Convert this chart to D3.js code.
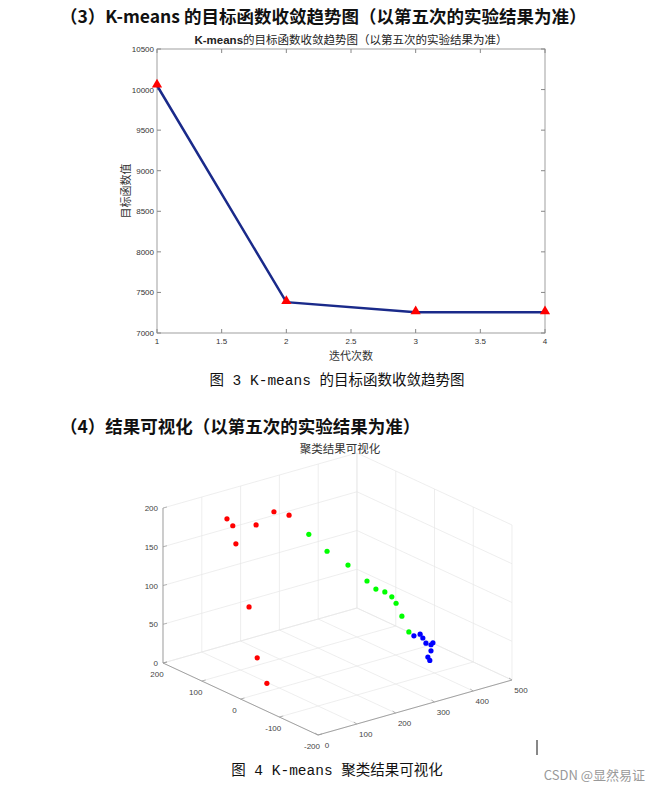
<!DOCTYPE html>
<html><head><meta charset="utf-8">
<script src="https://d3js.org/d3.v7.min.js"></script>
<style>body{margin:0;background:#fff}</style>
</head><body>
<svg id="vis"></svg>
<script>
  // line chart data
  var iterations = [1, 2, 3, 4];
  var objValues = [10050, 7380, 7255, 7255];
  var xTicks = [1, 1.5, 2, 2.5, 3, 3.5, 4];
  var yTicks = [7000, 7500, 8000, 8500, 9000, 9500, 10000, 10500];

  // 3d scatter data: [x, y, z]
  var cluster1 = [[65,100,200],[80,100,189],[68,80,172],[160,120,174],[226,140,177],[225,100,182],[72,50,97],[43,0,47],[48,-20,18]];
  var cluster2 = [[236,60,165],[263,40,144],[297,20,126],[326,0,106],[339,-10,96],[357,-15,91],[370,-20,84],[376,-25,76],[386,-30,59],[399,-35,38]];
  var cluster3 = [[407,-40,33],[428,-35,31],[430,-40,27],[433,-45,21],[441,-50,19],[451,-45,19],[436,-55,13],[423,-60,8],[428,-60,3]];
  var xTicks3 = [0, 100, 200, 300, 400, 500];
  var yTicks3 = [-200, -100, 0, 100, 200];
  var zTicks3 = [0, 50, 100, 150, 200];

  var width = 660, height = 792;
  var svg = d3.select('#vis').attr('width', width).attr('height', height);
  var cjk = '"Noto Sans CJK SC", sans-serif';
  var mono = '"Liberation Mono", "Noto Sans CJK SC", monospace';
  var axisFont = '"Liberation Sans", Arial, sans-serif';

  // headings
  svg.append('text').attr('x', 60).attr('y', 23).attr('font-family', cjk).attr('font-weight', 'bold')
     .attr('font-size', 17.5).attr('fill', '#111').text('（3）K-means 的目标函数收敛趋势图（以第五次的实验结果为准）');
  svg.append('text').attr('x', 60).attr('y', 433).attr('font-family', cjk).attr('font-weight', 'bold')
     .attr('font-size', 17.5).attr('fill', '#111').text('（4）结果可视化（以第五次的实验结果为准）');
  svg.append('text').attr('x', 337).attr('y', 385).attr('text-anchor', 'middle').attr('font-family', mono)
     .attr('font-size', 14.5).attr('fill', '#111').text('图 3 K-means 的目标函数收敛趋势图');
  svg.append('text').attr('x', 337).attr('y', 775).attr('text-anchor', 'middle').attr('font-family', mono)
     .attr('font-size', 14.5).attr('fill', '#111').text('图 4 K-means 聚类结果可视化');
  svg.append('text').attr('x', 645).attr('y', 780).attr('text-anchor', 'end').attr('font-family', cjk)
     .attr('font-size', 13).attr('fill', '#999').text('CSDN @显然易证');
  svg.append('line').attr('x1', 537).attr('x2', 537).attr('y1', 740).attr('y2', 755).attr('stroke', '#111');

  // ---- line chart ----
  var x = d3.scaleLinear().domain([1, 4]).range([157, 545]);
  var y = d3.scaleLinear().domain([7000, 10500]).range([333, 49]);
  var g = svg.append('g');
  g.append('rect').attr('x', 157).attr('y', 49).attr('width', 388).attr('height', 284)
     .attr('fill', 'none').attr('stroke', '#888').attr('stroke-width', 0.8);
  xTicks.forEach(function(t) {
    g.append('line').attr('x1', x(t)).attr('x2', x(t)).attr('y1', 333).attr('y2', 329).attr('stroke', '#888');
    g.append('line').attr('x1', x(t)).attr('x2', x(t)).attr('y1', 49).attr('y2', 53).attr('stroke', '#888');
    g.append('text').attr('x', x(t)).attr('y', 344).attr('text-anchor', 'middle').attr('font-family', axisFont)
      .attr('font-size', 8).attr('fill', '#333').text(t);
  });
  yTicks.forEach(function(t) {
    g.append('line').attr('x1', 157).attr('x2', 161).attr('y1', y(t)).attr('y2', y(t)).attr('stroke', '#888');
    g.append('line').attr('x1', 545).attr('x2', 541).attr('y1', y(t)).attr('y2', y(t)).attr('stroke', '#888');
    g.append('text').attr('x', 154).attr('y', y(t) + 3).attr('text-anchor', 'end').attr('font-family', axisFont)
      .attr('font-size', 8).attr('fill', '#333').text(t);
  });
  g.append('text').attr('x', 351).attr('y', 44).attr('text-anchor', 'middle').attr('font-family', cjk)
     .attr('font-size', 11.5).attr('fill', '#222').html('<tspan font-family="Liberation Sans" font-weight="bold">K-means</tspan>的目标函数收敛趋势图（以第五次的实验结果为准）');
  g.append('text').attr('x', 351).attr('y', 360).attr('text-anchor', 'middle').attr('font-family', cjk)
     .attr('font-size', 11).attr('fill', '#333').text('迭代次数');
  g.append('text').attr('transform', 'translate(130,191) rotate(-90)').attr('text-anchor', 'middle')
     .attr('font-family', cjk).attr('font-size', 11).attr('fill', '#333').text('目标函数值');
  var pts = iterations.map(function(d, i) { return [d, objValues[i]]; });
  g.append('path').attr('d', d3.line().x(function(d) { return x(d[0]); }).y(function(d) { return y(d[1]); })(pts))
     .attr('fill', 'none').attr('stroke', '#1a2a8a').attr('stroke-width', 2.5);
  g.selectAll('path.tri').data(pts).enter().append('path').attr('class', 'tri')
     .attr('d', d3.symbol().type(d3.symbolTriangle).size(45))
     .attr('transform', function(d) { return 'translate(' + x(d[0]) + ',' + (y(d[1]) - 1) + ')'; })
     .attr('fill', '#ff0000');

  // ---- 3d scatter ----
  var sx = d3.scaleLinear().domain([0, 500]).range([0, 1]);
  var sy = d3.scaleLinear().domain([-200, 200]).range([0, 1]);
  var sz = d3.scaleLinear().domain([0, 200]).range([0, 1]);
  var O = [318, 735], ex = [194, -55], ey = [-155, -72], ez = [0, -155];
  function proj(a, b, c) {
    var u = sx(a), v = sy(b), w = sz(c);
    return [O[0] + u * ex[0] + v * ey[0] + w * ez[0], O[1] + u * ex[1] + v * ey[1] + w * ez[1]];
  }
  var g3 = svg.append('g');
  function seg(p, q, col, sw) {
    g3.append('line').attr('x1', p[0]).attr('y1', p[1]).attr('x2', q[0]).attr('y2', q[1])
      .attr('stroke', col).attr('stroke-width', sw || 0.7);
  }
  var grid = '#e6e6e6';
  // back wall y=200
  xTicks3.forEach(function(t) { seg(proj(t, 200, 0), proj(t, 200, 200), grid); });
  zTicks3.forEach(function(t) { seg(proj(0, 200, t), proj(500, 200, t), grid); });
  // back wall x=500
  yTicks3.forEach(function(t) { seg(proj(500, t, 0), proj(500, t, 200), grid); });
  zTicks3.forEach(function(t) { seg(proj(500, -200, t), proj(500, 200, t), grid); });
  // floor
  xTicks3.forEach(function(t) { seg(proj(t, -200, 0), proj(t, 200, 0), grid); });
  yTicks3.forEach(function(t) { seg(proj(0, t, 0), proj(500, t, 0), grid); });
  // axes
  var ax = '#999';
  seg(proj(0, 200, 0), proj(0, 200, 200), ax, 0.9);
  seg(proj(0, -200, 0), proj(0, 200, 0), ax, 0.9);
  seg(proj(0, -200, 0), proj(500, -200, 0), ax, 0.9);
  zTicks3.forEach(function(t) {
    var p = proj(0, 200, t);
    seg(p, [p[0] + 4, p[1] - 1], ax);
    g3.append('text').attr('x', p[0] - 5).attr('y', p[1] + 3).attr('text-anchor', 'end')
      .attr('font-family', axisFont).attr('font-size', 8).attr('fill', '#444').text(t);
  });
  yTicks3.forEach(function(t) {
    var p = proj(0, t, 0);
    seg(p, [p[0] + 4, p[1] - 1], ax);
    g3.append('text').attr('x', p[0] - 6).attr('y', p[1] + 14).attr('text-anchor', 'middle')
      .attr('font-family', axisFont).attr('font-size', 8).attr('fill', '#444').text(t);
  });
  xTicks3.forEach(function(t) {
    var p = proj(t, -200, 0);
    seg(p, [p[0] - 3, p[1] - 2], ax);
    g3.append('text').attr('x', p[0] + 9).attr('y', p[1] + 13).attr('text-anchor', 'middle')
      .attr('font-family', axisFont).attr('font-size', 8).attr('fill', '#444').text(t);
  });
  g3.append('text').attr('x', 340).attr('y', 453).attr('text-anchor', 'middle').attr('font-family', cjk)
    .attr('font-size', 11.5).attr('fill', '#333').text('聚类结果可视化');
  [[cluster1, '#ff0000'], [cluster2, '#00ff00'], [cluster3, '#0000ff']].forEach(function(c) {
    g3.selectAll(null).data(c[0]).enter().append('circle')
      .attr('cx', function(d) { return proj(d[0], d[1], d[2])[0]; })
      .attr('cy', function(d) { return proj(d[0], d[1], d[2])[1]; })
      .attr('r', 2.6).attr('fill', c[1]);
  });
</script>
</body></html>
